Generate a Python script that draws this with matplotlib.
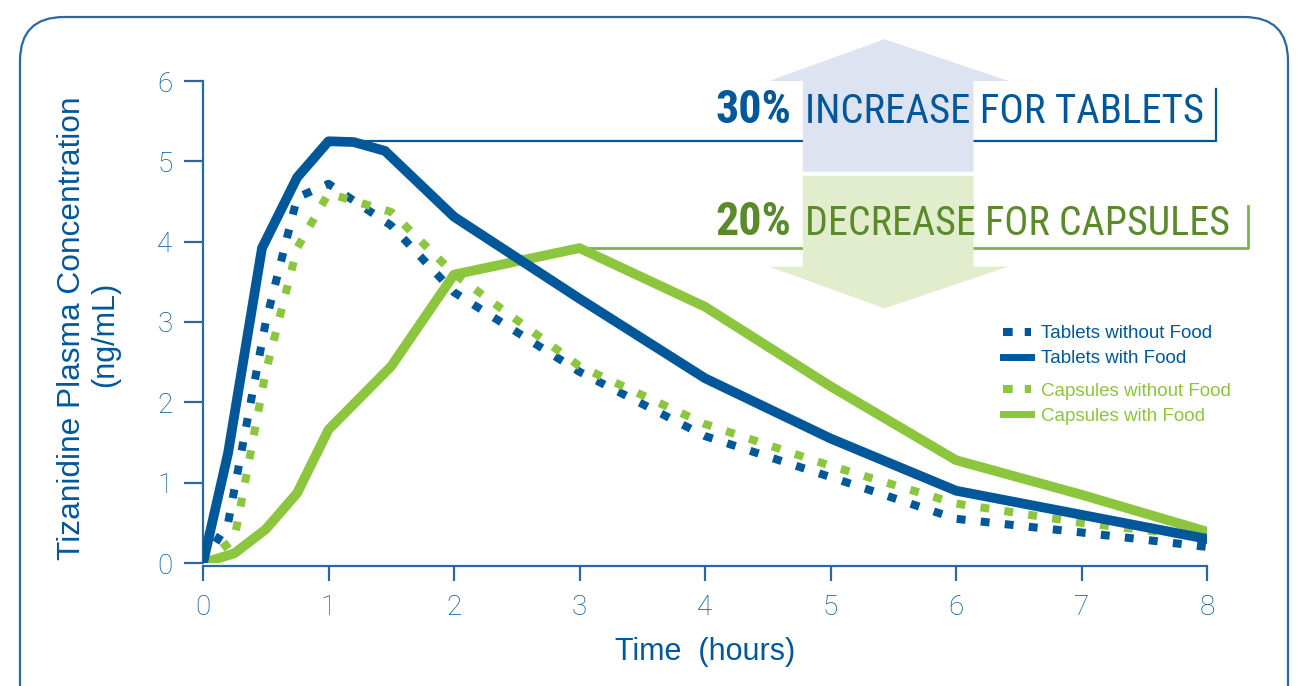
import numpy as np
import matplotlib
matplotlib.use("Agg")
import matplotlib.pyplot as plt
from matplotlib.patches import FancyBboxPatch, Polygon
from matplotlib.lines import Line2D

# concentration curves (ng/mL) against time (hours)
t_tab_fasted = [0, 0.2, 0.5, 0.75, 1.0, 1.5, 2, 3, 4, 5, 6, 7, 8]
c_tab_fasted = [0, 0.5, 3.0, 4.55, 4.72, 4.2, 3.37, 2.38, 1.58, 1.07, 0.55, 0.38, 0.2]

t_tab_fed = [0, 0.2, 0.47, 0.75, 1.0, 1.2, 1.45, 2, 3, 4, 5, 6, 7, 8]
c_tab_fed = [0, 1.37, 3.92, 4.8, 5.25, 5.24, 5.13, 4.31, 3.29, 2.3, 1.55, 0.9, 0.6, 0.3]

t_cap_fasted = [0, 0.25, 0.5, 0.75, 1.0, 1.5, 2, 3, 4, 5, 6, 7, 8]
c_cap_fasted = [0, 0.3, 2.38, 3.92, 4.6, 4.37, 3.6, 2.45, 1.73, 1.21, 0.74, 0.5, 0.32]

t_cap_fed = [0, 0.25, 0.5, 0.75, 1.0, 1.5, 2, 3, 4, 5, 6, 7, 8]
c_cap_fed = [0, 0.12, 0.42, 0.87, 1.66, 2.45, 3.59, 3.92, 3.19, 2.2, 1.28, 0.85, 0.39]

x_ticks = [0, 1, 2, 3, 4, 5, 6, 7, 8]
y_ticks = [0, 1, 2, 3, 4, 5, 6]

BLUE = "#00579a"
GREEN = "#8cc63f"
DKGREEN = "#5a8a2a"
AXBLUE = "#2b67a3"
LTBLUE = "#dde3f0"
LTGREEN = "#e1edcc"

plt.rcParams["font.family"] = ["Liberation Sans", "DejaVu Sans"]

fig = plt.figure(figsize=(13, 6.86), dpi=100)
renderer = fig.canvas.get_renderer()

# rounded panel behind everything, drawn in pixel units
bg = fig.add_axes([0, 0, 1, 1], zorder=0)
bg.set_xlim(0, 1300)
bg.set_ylim(686, 0)
bg.axis("off")
bg.add_patch(FancyBboxPatch((20, 17), 1268, 900, boxstyle="round,pad=0,rounding_size=44",
                            fc="white", ec=AXBLUE, lw=1.6))

ax = fig.add_axes([203 / 1300, 123 / 686, 1004 / 1300, 482 / 686], zorder=1)
ax.patch.set_visible(False)
ax.set_xlim(0, 8)
ax.set_ylim(0, 6)

lw_dot = 5.8
dots = (0, (1.1, 1.9))
ax.plot(t_tab_fasted, c_tab_fasted, color=BLUE, lw=lw_dot, ls=dots, dash_capstyle="butt", zorder=4)
ax.plot(t_cap_fasted, c_cap_fasted, color=GREEN, lw=lw_dot, ls=dots, dash_capstyle="butt", zorder=4)
ax.plot(t_cap_fed, c_cap_fed, color=GREEN, lw=7, solid_joinstyle="round", zorder=5)
ax.plot(t_tab_fed, c_tab_fed, color=BLUE, lw=7, solid_joinstyle="round", zorder=5)

# arrows showing the change with food
arr_up = Polygon([(4.78, 4.87), (4.78, 6.0), (4.51, 6.0), (5.43, 6.52), (6.42, 6.0),
                  (6.14, 6.0), (6.14, 4.87)], closed=True, fc=LTBLUE, ec="none",
                 clip_on=False, zorder=2)
arr_dn = Polygon([(4.78, 4.82), (4.78, 3.69), (4.51, 3.69), (5.43, 3.17), (6.42, 3.69),
                  (6.14, 3.69), (6.14, 4.82)], closed=True, fc=LTGREEN, ec="none",
                 clip_on=False, zorder=2)
ax.add_patch(arr_up)
ax.add_patch(arr_dn)

# bracket lines from each fed peak
i_tab = int(np.argmax(c_tab_fed))
i_cap = int(np.argmax(c_cap_fed))
pk_tab = c_tab_fed[i_tab]
pk_cap = c_cap_fed[i_cap]
ax.plot([t_tab_fed[i_tab], 8.07, 8.07], [pk_tab, pk_tab, 5.9], color=BLUE, lw=1.6,
        clip_on=False, zorder=1)
ax.plot([t_cap_fed[i_cap], 8.33, 8.33], [pk_cap, pk_cap, 4.45], color="#7cb342", lw=2,
        clip_on=False, zorder=1)


def fit_text(txt, width_px):
    # rescale the font so the drawn string spans width_px
    w = txt.get_window_extent(renderer).width
    txt.set_fontsize(txt.get_fontsize() * width_px / w)


narrow = ["Roboto Condensed", "Liberation Sans Narrow", "Roboto", "DejaVu Sans"]
for yb, pct, rest, col, w_rest in [(5.48, "30%", "INCREASE FOR TABLETS", BLUE, 399),
                                   (4.08, "20%", "DECREASE FOR CAPSULES", DKGREEN, 424)]:
    a = ax.text(4.69, yb, pct, color=col, fontsize=28, fontweight="bold", family=narrow,
                ha="right", va="baseline", zorder=6)
    b = ax.text(4.8, yb, rest, color=col, fontsize=28, family=narrow,
                ha="left", va="baseline", zorder=6)
    fit_text(a, 76)
    fit_text(b, w_rest)

# axes styling
for s in ["top", "right"]:
    ax.spines[s].set_visible(False)
for s in ["left", "bottom"]:
    ax.spines[s].set_color(AXBLUE)
    ax.spines[s].set_linewidth(1.6)
ax.spines["bottom"].set_position(("outward", 2))
ax.set_xticks(x_ticks)
ax.set_yticks(y_ticks)
ax.tick_params(axis="y", direction="out", length=14, width=1.6, color=AXBLUE,
               labelcolor=BLUE, labelsize=20, pad=8)
ax.tick_params(axis="x", direction="out", length=11, width=1.6, color=AXBLUE,
               labelcolor=BLUE, labelsize=20, pad=9)
for lab in ax.get_xticklabels() + ax.get_yticklabels():
    lab.set_family(["Roboto", "DejaVu Sans"])
    lab.set_fontweight("light")

ax.set_xlabel("Time  (hours)", color=BLUE, fontsize=22, labelpad=12)
fig.text(72 / 1300, 1 - 328 / 686, "Tizanidine Plasma Concentration", rotation=90,
         color=BLUE, fontsize=22.8, ha="center", va="center")
fig.text(105 / 1300, 1 - 334 / 686, "(ng/mL)", rotation=90,
         color=BLUE, fontsize=22, ha="center", va="center")

# legend, tablets and capsules in two groups
h_dot = dict(lw=lw_dot, ls=(0, (1.2, 1.5)), dash_capstyle="butt")
leg_kw = dict(loc="upper left", frameon=False, fontsize=13.5, handlelength=1.5,
              handletextpad=0.5, labelspacing=0.42, borderpad=0, borderaxespad=0)
leg_tab = ax.legend([Line2D([], [], color=BLUE, **h_dot), Line2D([], [], color=BLUE, lw=5)],
                    ["Tablets without Food", "Tablets with Food"],
                    bbox_to_anchor=(0.797, 0.493), labelcolor=BLUE, **leg_kw)
ax.add_artist(leg_tab)
leg_cap = ax.legend([Line2D([], [], color=GREEN, **h_dot), Line2D([], [], color=GREEN, lw=5)],
                    ["Capsules without Food", "Capsules with Food"],
                    bbox_to_anchor=(0.797, 0.374), labelcolor=GREEN, **leg_kw)

fig.savefig("out.png", dpi=100)
